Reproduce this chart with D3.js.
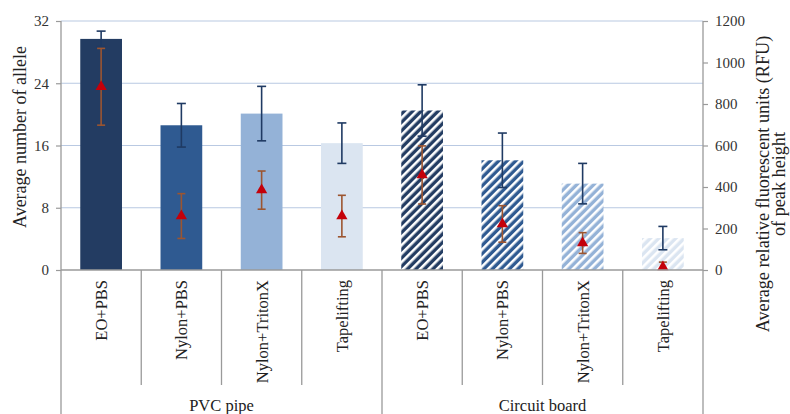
<!DOCTYPE html>
<html>
<head>
<meta charset="utf-8">
<script src="https://cdn.jsdelivr.net/npm/d3@7"></script>
<style>
  html, body { margin: 0; padding: 0; background: #fff; }
</style>
</head>
<body>
<svg id="chart" width="790" height="414"></svg>
<script>
// Sampling methods, grouped by surface
const categories = ["EO+PBS", "Nylon+PBS", "Nylon+TritonX", "Tapelifting",
                    "EO+PBS", "Nylon+PBS", "Nylon+TritonX", "Tapelifting"];
const groups = ["PVC pipe", "Circuit board"];
const groupSize = 4;

// Average number of alleles (left axis, bars) with error
const alleleMean = [29.7, 18.6, 20.1, 16.3, 20.5, 14.1, 11.1, 4.1];
const alleleErr  = [1.0, 2.8, 3.5, 2.6, 3.3, 3.5, 2.6, 1.5];

// Average peak height in RFU (right axis, red markers) with error
const rfuMean = [883, 260, 385, 260, 458, 222, 130, 15];
const rfuErr  = [185, 108, 92, 100, 140, 88, 50, 23];

const leftTicks  = [0, 8, 16, 24, 32];
const rightTicks = [0, 200, 400, 600, 800, 1000, 1200];

const barColors = ["#233c62", "#2f5a91", "#94b2d7", "#dbe5f1",
                   "#233c62", "#2f5a91", "#94b2d7", "#dbe5f1"];
const hatched = [false, false, false, false, true, true, true, true];

const FONT = '"Liberation Serif"';
const svg = d3.select("#chart");
const plotL = 61, plotR = 703, plotT = 21, plotB = 270;

const x = d3.scaleBand()
  .domain(d3.range(categories.length))
  .range([plotL, plotR])
  .paddingInner(0.48)
  .paddingOuter(0.24);
const step = x.step();
const yL = d3.scaleLinear().domain([0, 32]).range([plotB, plotT]);
const yR = d3.scaleLinear().domain([0, 1200]).range([plotB, plotT]);

// Diagonal stripe patterns for the circuit-board bars
const defs = svg.append("defs");
barColors.forEach((c, i) => {
  if (!hatched[i]) return;
  const p = defs.append("pattern")
    .attr("id", "hatch" + i)
    .attr("patternUnits", "userSpaceOnUse")
    .attr("width", 6).attr("height", 6)
    .attr("patternTransform", "rotate(45)");
  p.append("rect").attr("width", 6).attr("height", 6).attr("fill", c);
  p.append("rect").attr("width", 2.6).attr("height", 6).attr("fill", "#ffffff");
});

// Gridlines
svg.append("g").selectAll("line")
  .data(leftTicks.filter(t => t > 0))
  .join("line")
  .attr("x1", plotL).attr("x2", plotR)
  .attr("y1", d => yL(d)).attr("y2", d => yL(d))
  .attr("stroke", "#b9c9e2").attr("stroke-width", 1.2);

// Bars
svg.append("g").selectAll("rect")
  .data(alleleMean)
  .join("rect")
  .attr("x", (d, i) => x(i))
  .attr("width", x.bandwidth())
  .attr("y", d => yL(d))
  .attr("height", d => plotB - yL(d))
  .attr("fill", (d, i) => hatched[i] ? `url(#hatch${i})` : barColors[i]);

// Error bars helper
function errorBars(mean, err, scale, color, capW, cls) {
  const g = svg.append("g").attr("class", cls)
    .attr("stroke", color).attr("stroke-width", 1.6).attr("fill", "none");
  mean.forEach((m, i) => {
    const cx = x(i) + x.bandwidth() / 2;
    const lo = Math.max(0, m - err[i]), hi = m + err[i];
    g.append("line").attr("x1", cx).attr("x2", cx)
      .attr("y1", scale(lo)).attr("y2", scale(hi));
    g.append("line").attr("x1", cx - capW / 2).attr("x2", cx + capW / 2)
      .attr("y1", scale(hi)).attr("y2", scale(hi));
    if (m - err[i] > 0) {
      g.append("line").attr("x1", cx - capW / 2).attr("x2", cx + capW / 2)
        .attr("y1", scale(lo)).attr("y2", scale(lo));
    }
  });
}
errorBars(alleleMean, alleleErr, yL, "#1f3a63", 9, "err-allele");
errorBars(rfuMean, rfuErr, yR, "#9c5530", 8, "err-rfu");

// Red triangle markers for RFU
svg.append("g").selectAll("path")
  .data(rfuMean)
  .join("path")
  .attr("transform", (d, i) => `translate(${x(i) + x.bandwidth() / 2},${yR(d)})`)
  .attr("d", d3.symbol().type(d3.symbolTriangle).size(55))
  .attr("fill", "#c4000a");

// Axis lines and category separators
const axisColor = "#9a9a9a";
const frame = svg.append("g").attr("stroke", axisColor).attr("stroke-width", 1.3);
frame.append("line").attr("x1", plotL).attr("x2", plotL).attr("y1", plotT).attr("y2", 414);
frame.append("line").attr("x1", plotR).attr("x2", plotR).attr("y1", plotT).attr("y2", 414);
frame.append("line").attr("x1", plotL).attr("x2", plotR).attr("y1", plotB).attr("y2", plotB);
d3.range(1, categories.length).forEach(i => {
  const bx = plotL + step * i;
  const isGroupEdge = i % groupSize === 0;
  frame.append("line").attr("x1", bx).attr("x2", bx)
    .attr("y1", plotB).attr("y2", isGroupEdge ? 414 : 385);
});

// Left axis
const gL = svg.append("g").attr("transform", `translate(${plotL},0)`)
  .call(d3.axisLeft(yL).tickValues(leftTicks).tickFormat(d3.format("d"))
    .tickSize(5).tickPadding(7));
gL.select(".domain").remove();
gL.selectAll(".tick line").attr("stroke", axisColor).attr("stroke-width", 1.2);
gL.selectAll(".tick text").attr("fill", "#333")
  .style("font-family", FONT).style("font-size", "15px");

// Right axis
const gR = svg.append("g").attr("transform", `translate(${plotR},0)`)
  .call(d3.axisRight(yR).tickValues(rightTicks).tickFormat(d3.format("d"))
    .tickSize(5).tickPadding(7));
gR.select(".domain").remove();
gR.selectAll(".tick line").attr("stroke", axisColor).attr("stroke-width", 1.2);
gR.selectAll(".tick text").attr("fill", "#333")
  .style("font-family", FONT).style("font-size", "15px");

// Category labels (rotated)
svg.append("g").selectAll("text")
  .data(categories)
  .join("text")
  .attr("transform", (d, i) => `translate(${x(i) + x.bandwidth() / 2 + 6},280) rotate(-90)`)
  .attr("text-anchor", "end")
  .style("font-family", FONT).style("font-size", "16.5px")
  .attr("fill", "#222")
  .text(d => d);

// Group labels
svg.append("g").selectAll("text")
  .data(groups)
  .join("text")
  .attr("x", (d, i) => plotL + step * groupSize * (i + 0.5))
  .attr("y", 411)
  .attr("text-anchor", "middle")
  .style("font-family", FONT).style("font-size", "16.5px")
  .attr("fill", "#222")
  .text(d => d);

// Axis titles
svg.append("text")
  .attr("transform", "translate(26,137) rotate(-90)")
  .attr("text-anchor", "middle")
  .style("font-family", FONT).style("font-size", "18px")
  .attr("fill", "#222")
  .text("Average number of allele");

const rt = svg.append("text")
  .attr("transform", "translate(769,184) rotate(-90)")
  .attr("text-anchor", "middle")
  .style("font-family", FONT).style("font-size", "18.2px")
  .attr("fill", "#222");
rt.append("tspan").attr("x", 0).attr("dy", 0).text("Average relative fluorescent units (RFU)");
rt.append("tspan").attr("x", 0).attr("dy", 16).text("of peak height");
</script>
</body>
</html>
